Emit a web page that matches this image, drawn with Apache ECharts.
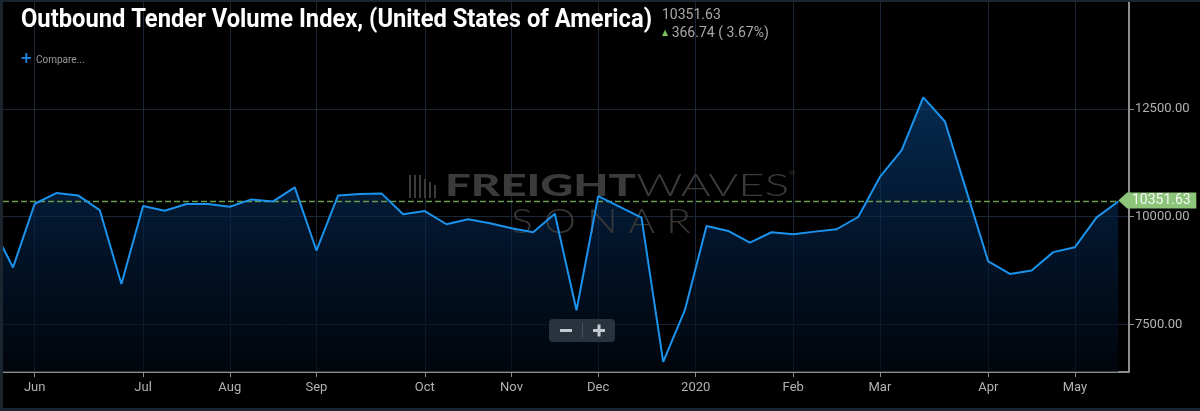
<!DOCTYPE html>
<html>
<head>
<meta charset="utf-8">
<script src="https://cdn.jsdelivr.net/npm/echarts@6/dist/echarts.min.js"></script>
<style>
html,body{margin:0;padding:0;background:#000;}
#c{width:1200px;height:411px;}
</style>
</head>
<body>
<div id="c"></div>
<script>
// ---- data ----
const dates = [
 '2019-05-19','2019-05-26','2019-06-02','2019-06-09','2019-06-16','2019-06-23','2019-06-30',
 '2019-07-07','2019-07-14','2019-07-21','2019-07-28','2019-08-04','2019-08-11','2019-08-18',
 '2019-08-25','2019-09-01','2019-09-08','2019-09-15','2019-09-22','2019-09-29','2019-10-06',
 '2019-10-13','2019-10-20','2019-10-27','2019-11-03','2019-11-10','2019-11-17','2019-11-24',
 '2019-12-01','2019-12-08','2019-12-15','2019-12-22','2019-12-29','2020-01-05','2020-01-12',
 '2020-01-19','2020-01-26','2020-02-02','2020-02-09','2020-02-16','2020-02-23','2020-03-01',
 '2020-03-08','2020-03-15','2020-03-22','2020-03-29','2020-04-05','2020-04-12','2020-04-19',
 '2020-04-26','2020-05-03','2020-05-10','2020-05-17'
];
const values = [
 9810, 8824, 10300, 10547, 10493, 10154, 8441,
 10247, 10138, 10293, 10293, 10231, 10401, 10355,
 10678, 9216, 10493, 10524, 10540, 10055, 10131,
 9825, 9940, 9847, 9732, 9640, 10069, 7832,
 10477, 10228, 9977, 6633, 7832, 9786, 9670,
 9400, 9640, 9594, 9654, 9709, 9993, 10922,
 11538, 12767, 12207, 10586, 8962, 8672, 8755,
 9179, 9294, 9984.89, 10351.63
];
const monthTickPos = [2, 7, 11, 15, 20, 24, 28, 32.5, 37, 41, 46, 50];
const monthTickLabels = ['Jun','Jul','Aug','Sep','Oct','Nov','Dec','2020','Feb','Mar','Apr','May'];
const yTicks = [7500, 10000, 12500];
const lastValue = 10351.63;
const changeAbs = 366.74;
const changePct = 3.67;
const titleText = 'Outbound Tender Volume Index, (United States of America)';

// ---- helpers ----
function measure(text, font) {
  const ctx = document.createElement('canvas').getContext('2d');
  ctx.font = font;
  return ctx.measureText(text).width;
}
const titleFont = 'bold 25px Roboto, sans-serif';
const titleScale = 631 / measure(titleText, titleFont);

// ---- chart ----
const chart = echarts.init(document.getElementById('c'), null, {renderer:'canvas'});
const xMin = 0.537, xMax = 52.494;
const lastIdx = values.length - 1;
const gridColor = '#1b2733';
const labelColor = '#b2b2b2';
const wm = '#3b3b3b';
const seriesData = values.map((v, i) => [i, v]);
const dashColor = '#6a9a4e';

const option = {
  backgroundColor: '#000',
  animation: false,
  grid: {left: 3, right: 71, top: 1, bottom: 39, containLabel: false},
  xAxis: {
    type: 'value', min: xMin, max: xMax,
    axisLine: {show: true, lineStyle: {color: '#8c8c8c', width: 2}},
    axisTick: {show: true, customValues: monthTickPos, length: 5, lineStyle: {color: '#8c8c8c'}},
    axisLabel: {
      customValues: monthTickPos, color: labelColor, fontSize: 13, fontFamily: 'Roboto', margin: 9,
      formatter: v => { const k = monthTickPos.indexOf(v); return k >= 0 ? monthTickLabels[k] : ''; }
    },
    splitLine: {show: true, lineStyle: {color: gridColor, width: 1}}
  },
  yAxis: {
    type: 'value', position: 'right', min: 6400, max: 15000,
    axisLine: {show: true, lineStyle: {color: '#8c8c8c', width: 2}},
    axisTick: {show: true, customValues: yTicks, length: 5, lineStyle: {color: '#8c8c8c'}},
    axisLabel: {customValues: yTicks, color: labelColor, fontSize: 13, fontFamily: 'Roboto', margin: 6,
      formatter: v => v.toFixed(2)},
    splitLine: {show: true, lineStyle: {color: gridColor, width: 1}}
  },
  series: [{
    // area fill (below watermark)
    type: 'line',
    data: seriesData,
    showSymbol: false,
    symbol: 'none',
    z: 1,
    silent: true,
    lineStyle: {width: 0, opacity: 0},
    areaStyle: {
      origin: 'start',
      color: new echarts.graphic.LinearGradient(0, 0, 0, 1, [
        {offset: 0, color: 'rgba(8,64,118,0.95)'},
        {offset: 0.45, color: 'rgba(4,36,74,0.9)'},
        {offset: 1, color: 'rgba(2,8,18,0.9)'}
      ])
    }
  }, {
    // dashed last-value line
    type: 'line',
    data: [[xMin, lastValue], [lastIdx, lastValue]],
    showSymbol: false,
    symbol: 'none',
    silent: true,
    z: 4,
    itemStyle: {color: dashColor},
    lineStyle: {color: dashColor, width: 1.5, type: 'dashed', dashOffset: 0}
  }, {
    // the line itself (above watermark)
    type: 'line',
    data: seriesData,
    showSymbol: false,
    symbol: 'none',
    z: 5,
    lineStyle: {color: '#1b93ec', width: 2},
    markPoint: {
      silent: true, animation: false,
      data: [{
        coord: [lastIdx, lastValue],
        symbol: 'path://M0,8.5 L9,0 L80,0 L80,17 L9,17 Z',
        symbolSize: [78, 16],
        symbolKeepAspect: false,
        symbolOffset: [39, -1],
        itemStyle: {color: '#8cc47a'},
        label: {show: true, position: 'inside', offset: [4, 0], formatter: lastValue.toFixed(2),
          color: '#f4f8f2', fontSize: 14, fontFamily: 'Roboto'}
      }]
    }
  }],
  graphic: [
    // frame
    {type: 'rect', left: 0, top: 0, shape: {width: 1200, height: 2}, style: {fill: '#1b2530'}, z: 10, silent: true},
    {type: 'rect', left: 0, top: 0, shape: {width: 3, height: 411}, style: {fill: '#1b2530'}, z: 10, silent: true},
    {type: 'rect', left: 0, top: 408, shape: {width: 1200, height: 3}, style: {fill: '#1b2530'}, z: 10, silent: true},
    // title
    {type: 'text', x: 21, y: 8, scaleX: titleScale, z: 10, style: {text: titleText, fill: '#ffffff',
      font: titleFont}},
    {type: 'text', left: 662, top: 8, z: 10, style: {text: lastValue.toFixed(2), fill: '#a8a8a8',
      font: '14px Roboto, sans-serif'}},
    {type: 'text', left: 662, top: 26, z: 10, style: {
      text: '{a|▲} ' + changeAbs.toFixed(2) + ' ( ' + changePct.toFixed(2) + '%)',
      fill: '#a8a8a8', font: '14px Roboto, sans-serif',
      rich: {a: {fill: '#7cc25b', fontSize: 8, fontFamily: 'DejaVu Sans'}}}},
    {type: 'text', left: 20, top: 52, z: 10, style: {text: '+', fill: '#1e8ae6',
      font: 'bold 15px "DejaVu Sans", sans-serif'}},
    {type: 'text', left: 36, top: 55, z: 10, style: {text: 'Compare...', fill: '#9a9a9a',
      font: '10px Roboto, sans-serif'}},
    // watermark (z between area fill and line)
    {type: 'rect', x: 409, y: 175, z: 3, silent: true, shape: {width: 2, height: 23}, style: {fill: wm}},
    {type: 'rect', x: 414, y: 175, z: 3, silent: true, shape: {width: 2, height: 23}, style: {fill: wm}},
    {type: 'rect', x: 419, y: 175, z: 3, silent: true, shape: {width: 2, height: 23}, style: {fill: wm}},
    {type: 'rect', x: 424, y: 179, z: 3, silent: true, shape: {width: 2, height: 19}, style: {fill: wm}},
    {type: 'rect', x: 429, y: 182, z: 3, silent: true, shape: {width: 2, height: 16}, style: {fill: wm}},
    {type: 'rect', x: 434, y: 185, z: 3, silent: true, shape: {width: 2, height: 13}, style: {fill: wm}},
    {type: 'text', x: 445, y: 170, scaleX: 1.47, z: 3, silent: true, style: {
      text: '{b|FREIGHT}{t|WAVES}{r|®}', rich: {
        b: {font: '900 31px Lato, "Open Sans", sans-serif', fill: wm},
        t: {font: '300 31px Lato, "Open Sans", sans-serif', fill: wm},
        r: {font: '6px sans-serif', fill: wm, verticalAlign: 'top'}
      }}},
    {type: 'text', x: 511, y: 206, scaleX: 1.23, z: 3, silent: true, style: {text: 'S O N A R', fill: '#383838',
      font: '300 33px Lato, "Open Sans", sans-serif'}},
    // zoom control
    {type: 'rect', x: 549, y: 319, z: 20, shape: {width: 66, height: 23, r: 4}, style: {fill: '#28333e'}},
    {type: 'rect', x: 582, y: 323, z: 21, shape: {width: 1, height: 15}, style: {fill: '#46525e'}},
    {type: 'rect', x: 560, y: 329, z: 21, shape: {width: 12, height: 3}, style: {fill: '#c4cacf'}},
    {type: 'rect', x: 593, y: 329, z: 21, shape: {width: 12, height: 3}, style: {fill: '#c4cacf'}},
    {type: 'rect', x: 597.5, y: 324.5, z: 21, shape: {width: 3, height: 12}, style: {fill: '#c4cacf'}}
  ]
};
chart.setOption(option);
</script>
</body>
</html>
